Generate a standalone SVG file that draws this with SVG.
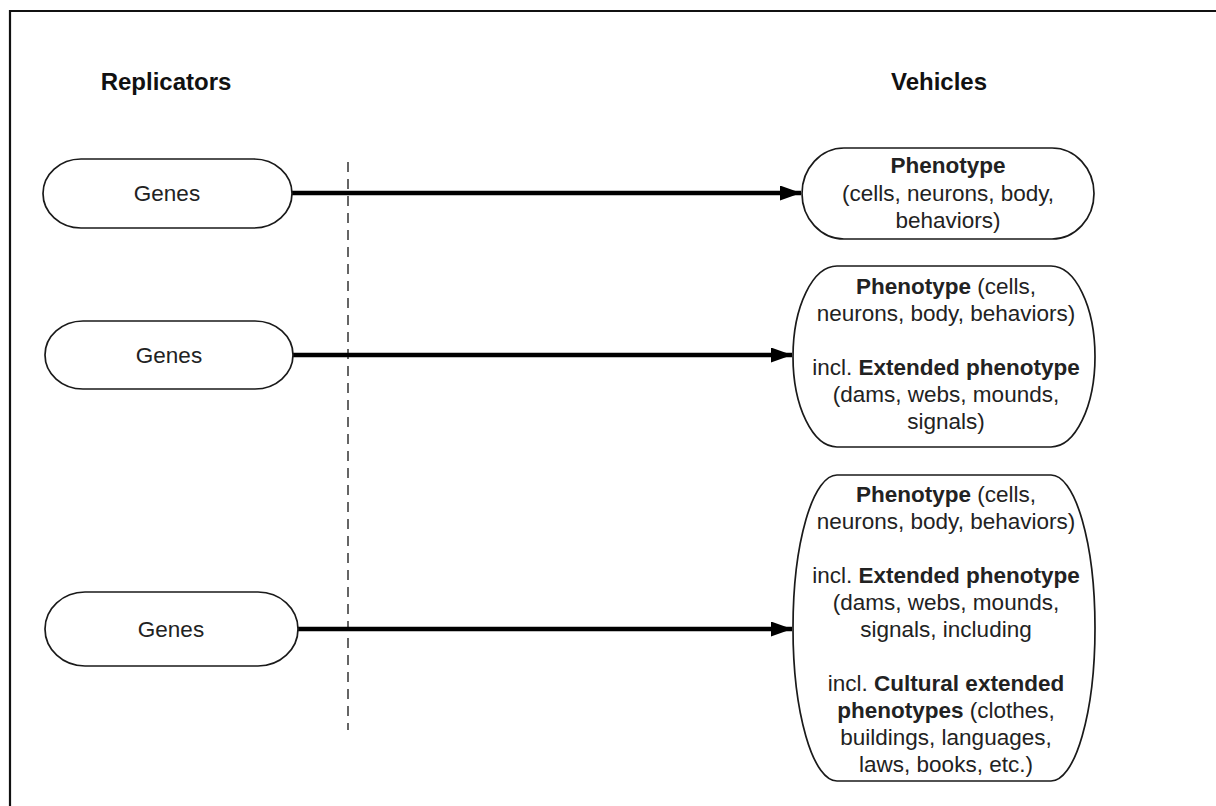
<svg xmlns="http://www.w3.org/2000/svg" width="1216" height="806" viewBox="0 0 1216 806">
<style>
.t{font-family:"Liberation Sans",Arial,sans-serif;font-size:22.5px;fill:#222;text-anchor:middle}
.h{font-family:"Liberation Sans",Arial,sans-serif;font-size:24px;font-weight:bold;fill:#111;text-anchor:middle}
.b{font-weight:bold}
.shape{fill:#fff;stroke:#1a1a1a;stroke-width:1.7}
.conn{stroke:#000;stroke-width:4.5;fill:none}
</style>
<defs>
<marker id="ah" markerWidth="21" markerHeight="15" refX="21" refY="7.5" orient="auto" markerUnits="userSpaceOnUse">
<path d="M0,0 L21,7.5 L0,15 Z" fill="#000"/>
</marker>
</defs>
<rect x="0" y="0" width="1216" height="806" fill="#fff"/>
<path d="M10,806 V11 H1216" fill="none" stroke="#111" stroke-width="2.2"/>
<text class="h" x="166" y="90">Replicators</text>
<text class="h" x="939" y="90">Vehicles</text>
<line x1="348" y1="162" x2="348" y2="730" stroke="#333" stroke-width="1.5" stroke-dasharray="10,7"/>
<g id="connectors">
<line class="conn" x1="292" y1="193" x2="801" y2="193" marker-end="url(#ah)"/>
<line class="conn" x1="293" y1="355" x2="792" y2="355" marker-end="url(#ah)"/>
<line class="conn" x1="298" y1="629" x2="792" y2="629" marker-end="url(#ah)"/>
</g>
<g id="genes1">
<rect class="shape" x="43" y="159" width="249" height="69" rx="38" ry="34.5"/>
<text class="t" x="167" y="201">Genes</text>
</g>
<g id="genes2">
<rect class="shape" x="45" y="321" width="248" height="68" rx="38" ry="34"/>
<text class="t" x="169" y="363">Genes</text>
</g>
<g id="genes3">
<rect class="shape" x="45" y="592" width="253" height="74" rx="40" ry="37"/>
<text class="t" x="171" y="637">Genes</text>
</g>
<g id="vehicle1">
<rect class="shape" x="802" y="148" width="292" height="91" rx="42" ry="45.5"/>
<text class="t" x="948" y="173"><tspan class="b">Phenotype</tspan></text>
<text class="t" x="948" y="201">(cells, neurons, body,</text>
<text class="t" x="948" y="228">behaviors)</text>
</g>
<g id="vehicle2">
<rect class="shape" x="793" y="266" width="302" height="181" rx="44" ry="90.5"/>
<text class="t" x="946" y="294"><tspan class="b">Phenotype</tspan> (cells,</text>
<text class="t" x="946" y="321">neurons, body, behaviors)</text>
<text class="t" x="946" y="375">incl. <tspan class="b">Extended phenotype</tspan></text>
<text class="t" x="946" y="402">(dams, webs, mounds,</text>
<text class="t" x="946" y="429">signals)</text>
</g>
<g id="vehicle3">
<rect class="shape" x="793" y="475" width="302" height="306" rx="44" ry="153"/>
<text class="t" x="946" y="502"><tspan class="b">Phenotype</tspan> (cells,</text>
<text class="t" x="946" y="529">neurons, body, behaviors)</text>
<text class="t" x="946" y="583">incl. <tspan class="b">Extended phenotype</tspan></text>
<text class="t" x="946" y="610">(dams, webs, mounds,</text>
<text class="t" x="946" y="637">signals, including</text>
<text class="t" x="946" y="691">incl. <tspan class="b">Cultural extended</tspan></text>
<text class="t" x="946" y="718"><tspan class="b">phenotypes</tspan> (clothes,</text>
<text class="t" x="946" y="745">buildings, languages,</text>
<text class="t" x="946" y="772">laws, books, etc.)</text>
</g>
</svg>
